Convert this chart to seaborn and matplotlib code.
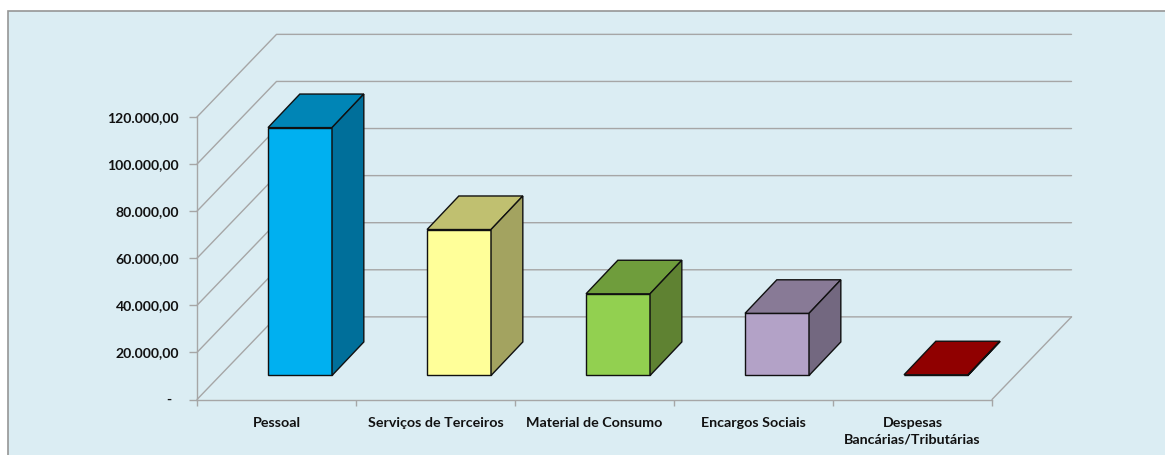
import pandas as pd
import matplotlib.pyplot as plt
import seaborn as sns
from matplotlib.patches import Polygon, Rectangle

categories = ['Pessoal', 'Serviços de Terceiros', 'Material de Consumo', 'Encargos Sociais',
              'Despesas\nBancárias/Tributárias']
values = [105300, 62000, 34700, 26400, 300]
front_colors = ['#00B0F0', '#FFFF99', '#92D050', '#B3A2C7', '#900000']
top_colors = ['#0085B6', '#C0C070', '#6F9D3C', '#887A96', '#900000']
side_colors = ['#006F9A', '#A3A360', '#5F8232', '#736880', '#900000']
y_ticks = [0, 20000, 40000, 60000, 80000, 100000, 120000]
y_labels = ['-  ', '20.000,00', '40.000,00', '60.000,00', '80.000,00', '100.000,00', '120.000,00']

BG = '#DBEDF3'
GRID = '#A6A6A6'
WIDTH, HEIGHT = 1165, 456

# oblique 3d look: offsets of the back wall and of the bars, in data units
WALL_DX, WALL_DY = 0.5, 35100
BAR_X_SHIFT, BAR_Y_SHIFT = 0.148, 10200
BAR_DX, BAR_DY = 0.2, 14250

sns.set_style('white')
plt.rcParams['font.family'] = ['Lato', 'DejaVu Sans']

fig = plt.figure(figsize=(WIDTH / 100, HEIGHT / 100), dpi=100, facecolor='white')
# panel runs off the right and bottom of the picture
fig.add_artist(Rectangle((8 / WIDTH, -0.1), 1.0, 1.1 - 12 / HEIGHT, transform=fig.transFigure,
                         facecolor=BG, edgecolor='#969696', linewidth=1.2, zorder=-1))
ax = fig.add_axes([197 / WIDTH, (HEIGHT - 400.5) / HEIGHT, 795 / WIDTH, 282.5 / HEIGHT])
ax.patch.set_alpha(0)

data = pd.DataFrame({'categoria': categories, 'valor': values})
sns.barplot(data=data, x='categoria', y='valor', hue='categoria', hue_order=categories,
            palette=front_colors, saturation=1, width=0.4025, dodge=False, legend=False,
            edgecolor='#101010', linewidth=1.0, zorder=3, ax=ax)

ax.set_xlim(-0.5, 4.5)
ax.set_ylim(0, 120000)
ax.set_xlabel('')
ax.set_ylabel('')

# move the front faces into the floor and add the top and side faces
for bar, top_c, side_c in zip(list(ax.patches), top_colors, side_colors):
    bar.set_x(bar.get_x() + BAR_X_SHIFT)
    bar.set_y(BAR_Y_SHIFT)
    bar.set_clip_on(False)
    x0, x1 = bar.get_x(), bar.get_x() + bar.get_width()
    y0, y1 = BAR_Y_SHIFT, BAR_Y_SHIFT + bar.get_height()
    ax.add_patch(Polygon([(x0, y1), (x1, y1), (x1 + BAR_DX, y1 + BAR_DY), (x0 + BAR_DX, y1 + BAR_DY)],
                         facecolor=top_c, edgecolor='#101010', linewidth=1.0, zorder=3, clip_on=False))
    ax.add_patch(Polygon([(x1, y0), (x1 + BAR_DX, y0 + BAR_DY), (x1 + BAR_DX, y1 + BAR_DY), (x1, y1)],
                         facecolor=side_c, edgecolor='#101010', linewidth=1.0, zorder=3, clip_on=False))

# gridlines run from the left edge up the side wall and along the back wall
left, right = -0.5, 4.5
for v in y_ticks:
    ax.plot([left, left + WALL_DX, right + WALL_DX], [v, v + WALL_DY, v + WALL_DY],
            color=GRID, lw=1.0, zorder=1, clip_on=False)
ax.plot([right, right + WALL_DX], [0, WALL_DY], color=GRID, lw=1.0, zorder=1, clip_on=False)

for name, spine in ax.spines.items():
    spine.set_visible(name in ('left', 'bottom'))
    spine.set_color(GRID)
    spine.set_linewidth(1.0)

ax.set_yticks(y_ticks, labels=y_labels)
ax.set_xticks([i - 0.5 for i in range(6)], labels=[])
ax.set_xticks(list(range(5)), labels=categories, minor=True)
ax.tick_params(axis='y', which='major', left=True, length=6, width=1.0, color=GRID, pad=7,
               labelsize=10.1, labelcolor='#111111')
ax.tick_params(axis='x', which='major', bottom=True, length=4, width=1.0, color=GRID)
ax.tick_params(axis='x', which='minor', bottom=False, length=0, pad=12, labelsize=10.3,
               labelcolor='#111111')
for label in ax.get_yticklabels() + ax.get_xticklabels(minor=True):
    label.set_fontweight('bold')
    label.set_linespacing(1.45)
for label in ax.get_yticklabels():
    label.set_verticalalignment('center')

fig.savefig('out.png', dpi=100, facecolor='white')
